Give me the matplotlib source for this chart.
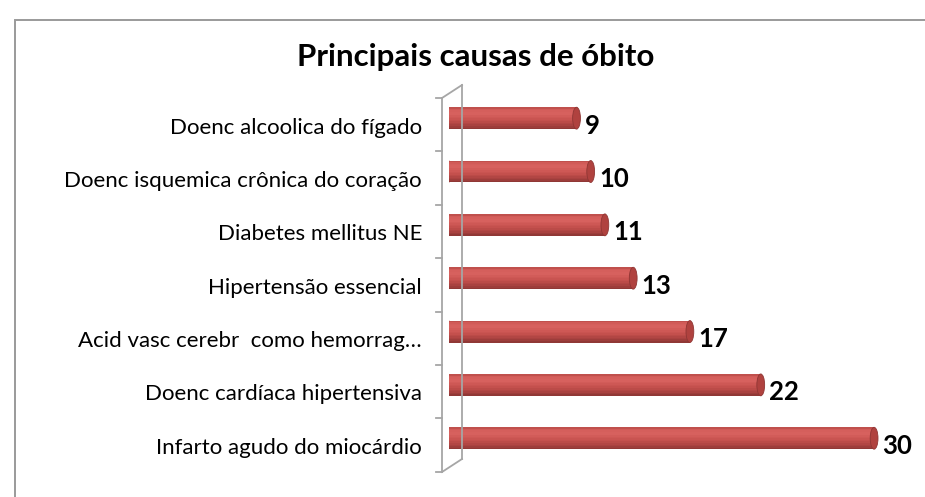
import numpy as np
import matplotlib
matplotlib.use("Agg")
import matplotlib.pyplot as plt
from matplotlib.patches import Ellipse, Rectangle
from matplotlib.lines import Line2D
from matplotlib.colors import to_rgb
from matplotlib.transforms import ScaledTranslation

# ---- data (bottom to top) ----
categories = [
    "Infarto agudo do miocárdio",
    "Doenc cardíaca hipertensiva",
    "Acid vasc cerebr  como hemorrag…",
    "Hipertensão essencial",
    "Diabetes mellitus NE",
    "Doenc isquemica crônica do coração",
    "Doenc alcoolica do fígado",
]
values = [30, 22, 17, 13, 11, 10, 9]
title = "Principais causas de óbito"

plt.rcParams['font.family'] = ['Lato', 'DejaVu Sans']

W, H = 925, 497
fig = plt.figure(figsize=(W / 100, H / 100), dpi=100)
fig.patch.set_facecolor("white")

def fx(px):
    return px / W

def fy(py):
    return 1 - py / H

# axes: value 0 at x=449px, 14.17 px per unit; rows 53.33 px apart
px_per_unit = 14.17
ax_left, ax_right = 449, 925
ax_top, ax_bot = 91.5, 464.9
ax = fig.add_axes([fx(ax_left), fy(ax_bot), fx(ax_right - ax_left), (ax_bot - ax_top) / H])
ax.set_xlim(0, (ax_right - ax_left) / px_per_unit)
ax.set_ylim(-0.5, len(categories) - 0.5)
ax.set_facecolor("none")
for s in ax.spines.values():
    s.set_visible(False)
ax.set_xticks([])
ax.set_yticks(range(len(categories)))
ax.set_yticklabels(categories, fontsize=16, color="#000000")
ax.tick_params(axis="y", length=0, pad=19.5)
down = ScaledTranslation(0, -0.075, fig.dpi_scale_trans)
for lab in ax.get_yticklabels():
    lab.set_transform(lab.get_transform() + down)

# cylinder-like bars via stacked strips
ypos = np.arange(len(categories))
bar_h = 0.41
profile = [(0.0, "#8a3533"), (0.15, "#a5403e"), (0.4, "#c5504d"),
           (0.7, "#d8625f"), (0.88, "#d45d5a"), (1.0, "#b84a48")]
N = 14
pos = np.array([p for p, _ in profile])
cols = np.array([to_rgb(c) for _, c in profile])
for k in range(N):
    f = (k + 0.5) / N
    c = [np.interp(f, pos, cols[:, j]) for j in range(3)]
    off = -bar_h / 2 + (k + 0.5) * bar_h / N
    ax.barh(ypos + off, values, height=bar_h / N * 1.05, left=0, color=c,
            edgecolor="none", zorder=2)

for y, v in zip(ypos, values):
    ax.add_patch(Ellipse((v, y), 0.55, bar_h, facecolor="#b0423f",
                         edgecolor="#8f3634", lw=0.6, zorder=3))
    ax.add_patch(Ellipse((0, y), 0.45, bar_h, facecolor="#c5504d",
                         edgecolor="none", zorder=1.5))
    ax.text(v + 0.6, y, str(v), fontsize=18.5, fontweight="bold",
            va="center", ha="left", color="#000000", zorder=4,
            transform=ax.transData + down)

# 3D wall frame lines (decoration)
gray = "#a6a6a6"
frame = [((442, 98), (442, 472)), ((462, 85), (462, 459)),
         ((442, 98), (462, 85)), ((442, 472), (462, 459))]
for (x0, y0), (x1, y1) in frame:
    fig.add_artist(Line2D([fx(x0), fx(x1)], [fy(y0), fy(y1)], color=gray, lw=1.3))
for k in range(len(categories) + 1):
    ty = 98 + k * 53.4
    fig.add_artist(Line2D([fx(436), fx(442)], [fy(ty), fy(ty)], color=gray, lw=1.3))

# chart border
fig.add_artist(Rectangle((fx(15), -0.1), 1.2, fy(20) + 0.1, transform=fig.transFigure,
                         fill=False, edgecolor="#9a9a9a", lw=1.4))

fig.text(fx(476), fy(57), title, fontsize=22.5, fontweight="bold",
         ha="center", va="center", color="#000000")

fig.savefig("out.png", dpi=100, facecolor="white")
